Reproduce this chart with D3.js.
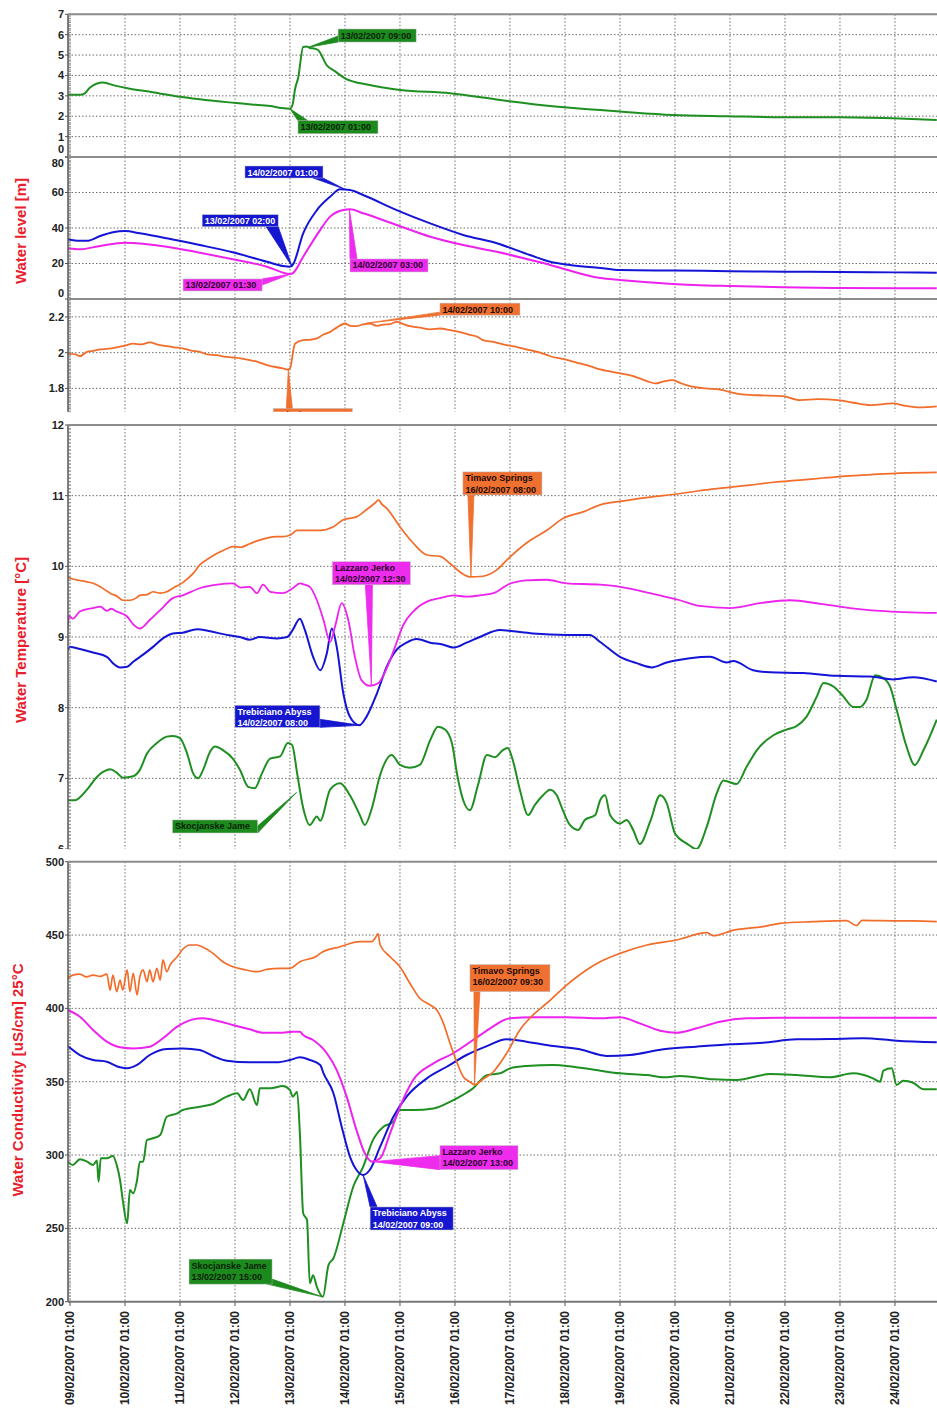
<!DOCTYPE html>
<html><head><meta charset="utf-8">
<script src="https://cdn.jsdelivr.net/npm/d3@7"></script>
<style>body{margin:0;background:#fff} svg{display:block} text{font-family:"Liberation Sans",Arial,sans-serif}</style>
</head><body><svg id="c" width="937" height="1408"></svg>
<script>
// ---------- DATA (t = days since 09/02/2007 01:00, value) ----------
const tickLabels = ["09/02/2007 01:00","10/02/2007 01:00","11/02/2007 01:00","12/02/2007 01:00","13/02/2007 01:00","14/02/2007 01:00","15/02/2007 01:00","16/02/2007 01:00","17/02/2007 01:00","18/02/2007 01:00","19/02/2007 01:00","20/02/2007 01:00","21/02/2007 01:00","22/02/2007 01:00","23/02/2007 01:00","24/02/2007 01:00"];
const levelTicksSkocjanske = [0,1,2,3,4,5,6,7];
const levelTicksTrebiciano = [0,20,40,60,80];
const levelTicksTimavo = [1.8,2,2.2];
const tempTicks = [6,7,8,9,10,11,12];
const condTicks = [200,250,300,350,400,450,500];

const levelSkocjanske = [[-0.04,3.05],[0.18,3.05],[0.27,3.12],[0.36,3.4],[0.6,3.65],[0.82,3.5],[1.09,3.35],[1.5,3.18],[2.0,2.95],[2.5,2.78],[3.02,2.65],[3.3,2.58],[3.64,2.5],[3.85,2.4],[4.0,2.37],[4.05,2.6],[4.09,3.3],[4.15,3.9],[4.24,5.4],[4.3,5.42],[4.36,5.35],[4.42,5.33],[4.51,5.25],[4.67,4.5],[4.82,4.2],[5.0,3.86],[5.45,3.53],[6.0,3.29],[6.91,3.13],[7.82,2.8],[8.73,2.5],[9.64,2.3],[10.0,2.23],[10.96,2.06],[11.95,2.0],[12.96,1.95],[13.96,1.95],[14.96,1.9],[15.76,1.82]];
const levelTrebiciano = [[-0.04,33.6],[0.18,32.8],[0.31,32.8],[0.55,35.5],[0.78,37.6],[1.0,38.3],[1.27,37.0],[1.76,34.2],[2.36,30.4],[2.96,26.3],[3.58,21.0],[3.87,18.6],[4.0,18.2],[4.05,19.2],[4.24,37.0],[4.49,50.1],[4.73,57.6],[4.91,61.8],[5.09,61.4],[5.33,58.6],[5.94,50.1],[6.55,42.6],[7.15,36.1],[7.76,31.4],[8.36,24.8],[8.73,21.0],[9.09,19.2],[9.64,17.5],[10.0,16.3],[11.0,16.0],[12.0,15.7],[13.0,15.4],[14.0,15.2],[15.0,15.0],[15.76,14.8]];
const levelLazzaro = [[-0.04,28.6],[0.18,28.0],[0.55,29.9],[1.0,31.7],[1.76,29.5],[2.36,26.1],[2.96,22.4],[3.58,18.2],[4.0,14.1],[4.05,14.5],[4.24,23.8],[4.49,36.1],[4.73,46.4],[4.97,50.1],[5.09,50.5],[5.33,48.3],[5.94,41.7],[6.55,35.1],[7.15,30.4],[7.76,26.6],[8.73,19.2],[9.64,11.8],[10.0,10.7],[10.96,8.5],[12.0,7.3],[12.96,6.6],[14.0,6.2],[15.76,6.0]];
const levelTimavo = [[-0.04,1.995],[0.1,1.99],[0.18,1.98],[0.31,2.005],[0.42,2.01],[0.55,2.018],[0.7,2.022],[0.85,2.03],[1.0,2.04],[1.15,2.05],[1.3,2.046],[1.45,2.058],[1.6,2.045],[1.76,2.036],[1.9,2.03],[2.05,2.024],[2.2,2.012],[2.36,2.005],[2.5,1.99],[2.67,1.986],[2.8,1.978],[2.96,1.973],[3.1,1.968],[3.27,1.958],[3.4,1.95],[3.58,1.93],[3.7,1.922],[3.87,1.912],[3.96,1.906],[4.0,1.912],[4.09,2.05],[4.24,2.07],[4.36,2.072],[4.49,2.08],[4.6,2.1],[4.73,2.116],[4.85,2.14],[5.0,2.163],[5.1,2.15],[5.21,2.148],[5.33,2.158],[5.45,2.163],[5.58,2.15],[5.7,2.157],[5.82,2.16],[5.94,2.172],[6.06,2.16],[6.18,2.148],[6.36,2.14],[6.55,2.13],[6.73,2.135],[6.91,2.126],[7.09,2.115],[7.27,2.10],[7.4,2.09],[7.51,2.07],[7.7,2.06],[7.94,2.042],[8.15,2.03],[8.36,2.014],[8.55,2.0],[8.73,1.98],[9.0,1.962],[9.27,1.94],[9.45,1.925],[9.64,1.906],[9.82,1.895],[10.0,1.884],[10.24,1.869],[10.36,1.856],[10.5,1.84],[10.64,1.828],[10.8,1.84],[10.96,1.846],[11.1,1.83],[11.27,1.813],[11.55,1.8],[11.82,1.794],[12.0,1.78],[12.18,1.768],[12.5,1.762],[12.96,1.757],[13.27,1.735],[13.6,1.74],[13.96,1.735],[14.25,1.72],[14.55,1.707],[14.96,1.716],[15.2,1.702],[15.45,1.694],[15.76,1.70]];

const tempTimavo = [[-0.04,9.85],[0.05,9.82],[0.18,9.8],[0.31,9.78],[0.42,9.76],[0.55,9.71],[0.67,9.65],[0.73,9.62],[0.85,9.58],[0.96,9.52],[1.09,9.52],[1.2,9.55],[1.27,9.59],[1.4,9.6],[1.51,9.64],[1.64,9.62],[1.76,9.64],[1.87,9.69],[2.05,9.77],[2.24,9.9],[2.36,10.02],[2.5,10.1],[2.67,10.18],[2.85,10.25],[2.96,10.28],[3.1,10.27],[3.27,10.32],[3.4,10.36],[3.58,10.4],[3.75,10.42],[3.87,10.42],[4.0,10.44],[4.13,10.51],[4.36,10.51],[4.55,10.51],[4.79,10.56],[4.97,10.66],[5.21,10.70],[5.39,10.80],[5.55,10.9],[5.61,10.94],[5.67,10.88],[5.76,10.82],[6.0,10.56],[6.24,10.33],[6.49,10.16],[6.73,10.14],[6.91,10.04],[7.09,9.92],[7.27,9.85],[7.51,9.86],[7.76,9.95],[7.97,10.11],[8.3,10.33],[8.67,10.51],[8.97,10.68],[9.33,10.77],[9.64,10.87],[10.1,10.93],[10.55,10.98],[11.0,11.02],[11.45,11.07],[11.9,11.11],[12.36,11.15],[12.8,11.19],[13.27,11.22],[13.7,11.25],[14.18,11.28],[14.6,11.3],[15.09,11.32],[15.76,11.33]];
const tempLazzaro = [[-0.04,9.12],[-0.02,9.3],[0.05,9.26],[0.18,9.36],[0.42,9.41],[0.55,9.43],[0.67,9.37],[0.75,9.4],[0.85,9.36],[1.04,9.29],[1.15,9.18],[1.27,9.12],[1.45,9.24],[1.64,9.38],[1.87,9.55],[2.05,9.59],[2.36,9.69],[2.67,9.74],[2.96,9.76],[3.1,9.7],[3.27,9.71],[3.4,9.62],[3.51,9.74],[3.64,9.64],[3.87,9.62],[4.05,9.69],[4.18,9.76],[4.27,9.74],[4.36,9.71],[4.49,9.52],[4.61,9.24],[4.73,8.93],[4.82,9.15],[4.94,9.48],[5.06,9.24],[5.18,8.72],[5.3,8.39],[5.45,8.31],[5.61,8.35],[5.76,8.56],[5.91,8.86],[6.06,9.17],[6.24,9.36],[6.49,9.5],[6.73,9.55],[6.97,9.59],[7.21,9.57],[7.45,9.59],[7.7,9.62],[7.96,9.74],[8.3,9.80],[8.67,9.81],[9.03,9.76],[9.64,9.74],[10.0,9.71],[10.55,9.62],[11.09,9.52],[11.45,9.44],[12.0,9.41],[12.55,9.48],[13.09,9.52],[13.64,9.47],[14.18,9.41],[14.73,9.37],[15.76,9.34]];
const tempTrebiciano = [[-0.04,8.82],[0.0,8.86],[0.18,8.83],[0.42,8.78],[0.67,8.72],[0.78,8.63],[0.91,8.57],[1.04,8.58],[1.15,8.65],[1.33,8.75],[1.51,8.86],[1.69,8.98],[1.87,9.05],[2.05,9.06],[2.31,9.11],[2.55,9.08],[2.85,9.03],[3.09,9.0],[3.27,8.96],[3.45,9.0],[3.76,8.98],[3.95,9.0],[4.05,9.1],[4.18,9.26],[4.27,9.1],[4.42,8.72],[4.55,8.53],[4.67,8.77],[4.76,9.12],[4.85,8.86],[4.97,8.2],[5.09,7.87],[5.26,7.75],[5.39,7.87],[5.58,8.2],[5.76,8.58],[5.94,8.82],[6.12,8.92],[6.3,8.97],[6.55,8.92],[6.79,8.89],[6.97,8.85],[7.21,8.92],[7.45,9.0],[7.82,9.1],[8.06,9.08],[8.42,9.05],[9.03,9.03],[9.45,9.03],[9.64,8.93],[10.0,8.72],[10.3,8.63],[10.58,8.57],[10.85,8.64],[11.27,8.70],[11.64,8.72],[11.94,8.64],[12.06,8.66],[12.42,8.53],[12.73,8.5],[13.33,8.49],[13.94,8.45],[14.55,8.44],[14.97,8.4],[15.33,8.43],[15.76,8.37]];
const tempSkocjanske = [[-0.04,6.69],[0.09,6.69],[0.31,6.84],[0.49,7.02],[0.6,7.09],[0.73,7.13],[0.85,7.08],[0.96,7.01],[1.15,7.03],[1.27,7.12],[1.4,7.35],[1.58,7.5],[1.76,7.59],[1.87,7.6],[2.0,7.57],[2.13,7.35],[2.24,7.07],[2.33,7.0],[2.42,7.12],[2.55,7.38],[2.64,7.45],[2.78,7.4],[2.96,7.28],[3.09,7.12],[3.24,6.88],[3.36,6.86],[3.49,7.07],[3.64,7.28],[3.82,7.31],[3.96,7.5],[4.04,7.47],[4.13,7.07],[4.24,6.58],[4.36,6.34],[4.49,6.46],[4.55,6.4],[4.73,6.84],[4.91,6.93],[5.09,6.76],[5.27,6.48],[5.36,6.34],[5.49,6.58],[5.64,7.05],[5.85,7.33],[6.0,7.19],[6.18,7.15],[6.36,7.19],[6.55,7.54],[6.69,7.73],[6.82,7.69],[6.95,7.48],[7.04,7.05],[7.15,6.69],[7.27,6.55],[7.42,6.91],[7.58,7.33],[7.73,7.30],[7.87,7.40],[7.96,7.43],[8.05,7.26],[8.18,6.84],[8.33,6.48],[8.45,6.62],[8.6,6.76],[8.73,6.84],[8.85,6.76],[8.96,6.55],[9.09,6.34],[9.24,6.27],[9.36,6.41],[9.55,6.48],[9.64,6.69],[9.73,6.76],[9.82,6.48],[10.0,6.36],[10.12,6.41],[10.24,6.27],[10.36,6.07],[10.55,6.39],[10.73,6.76],[10.85,6.65],[11.0,6.22],[11.21,6.08],[11.39,6.0],[11.58,6.32],[11.76,6.79],[11.88,6.97],[12.12,6.92],[12.3,7.16],[12.49,7.40],[12.79,7.61],[13.03,7.69],[13.21,7.74],[13.39,7.87],[13.58,8.16],[13.7,8.35],[13.88,8.30],[14.06,8.16],[14.24,8.01],[14.36,8.01],[14.48,8.11],[14.64,8.46],[14.79,8.42],[14.91,8.30],[15.03,7.97],[15.21,7.45],[15.36,7.19],[15.52,7.40],[15.76,7.83]];

const condTimavo = [[-0.04,420.5],[0.05,422.7],[0.18,423.4],[0.3,421.5],[0.42,422.7],[0.55,421.8],[0.67,423.4],[0.73,412.5],[0.78,422.7],[0.85,411.4],[0.91,419.3],[0.96,412.5],[1.04,426.2],[1.09,411.4],[1.15,423.9],[1.22,409.1],[1.27,421.6],[1.33,426.2],[1.4,418.2],[1.45,426.2],[1.51,418.2],[1.58,427.3],[1.64,419.3],[1.69,433],[1.76,425],[1.82,429.6],[1.95,435.2],[2.05,440.3],[2.18,443.2],[2.31,443.2],[2.42,441.6],[2.6,437.5],[2.78,431.8],[2.96,428.4],[3.15,426.6],[3.4,425],[3.58,426.6],[3.82,427.3],[4.0,427.3],[4.18,431.8],[4.49,435.7],[4.55,437.5],[4.91,442],[5.27,445.5],[5.49,445.5],[5.55,448],[5.6,451],[5.64,443.2],[5.82,435.2],[6.0,428.4],[6.18,417.1],[6.36,406.9],[6.55,402.3],[6.67,398.9],[6.79,389.8],[6.91,376.2],[7.03,363.6],[7.15,353.4],[7.27,350],[7.36,347.8],[7.49,351.2],[7.7,356.8],[7.94,369.4],[8.18,385.3],[8.42,395.5],[8.67,403.5],[9.03,415.9],[9.39,426.2],[9.64,431.8],[10.0,437.5],[10.49,443.2],[11.03,446.6],[11.58,451.6],[11.7,449.5],[12.06,453.4],[12.6,455.7],[12.91,458],[13.51,459.1],[14.12,459.8],[14.3,456.5],[14.4,460],[14.73,459.8],[15.33,459.6],[15.76,459.1]];
const condLazzaro = [[-0.04,398.9],[0.18,394.3],[0.42,385.3],[0.67,377.3],[0.91,373.5],[1.15,372.7],[1.45,373.9],[1.69,379.6],[1.95,387.5],[2.24,392.5],[2.42,393.2],[2.67,391.6],[2.96,388.7],[3.27,385.7],[3.51,383.4],[3.82,383.4],[4.05,384.1],[4.18,384.1],[4.24,381.8],[4.42,378.4],[4.67,369.4],[4.85,357.9],[5.03,339.8],[5.21,317],[5.36,301.2],[5.49,295.5],[5.64,297.8],[5.82,314.8],[6.0,332.9],[6.24,351.2],[6.61,362.5],[6.97,369.4],[7.33,378.4],[7.64,386.4],[8.0,393.2],[8.42,393.9],[9.03,393.9],[9.64,393.2],[10.0,393.9],[10.36,389.8],[10.73,384.8],[11.03,383.4],[11.39,386.4],[11.82,390.9],[12.3,393.2],[12.91,393.6],[15.76,393.6]];
const condTrebiciano = [[-0.04,374.3],[0.18,368.2],[0.42,364.8],[0.67,363.6],[0.91,359.8],[1.04,359.1],[1.22,361.4],[1.45,368.2],[1.76,372.3],[2.05,372.7],[2.36,371.6],[2.6,367.5],[2.85,364.3],[3.27,363.2],[3.76,363.2],[4.0,364.8],[4.18,366.6],[4.36,364.8],[4.55,361.4],[4.61,355.7],[4.79,342.1],[4.94,319.3],[5.09,298.9],[5.21,289.8],[5.33,286.4],[5.45,289.8],[5.64,305.7],[5.88,326.1],[6.12,339.8],[6.49,352.3],[6.85,360.2],[7.21,368.2],[7.58,374.3],[7.94,378.9],[8.3,377.3],[8.79,374.3],[9.27,372.1],[9.64,368.2],[9.76,367.5],[10.18,368.2],[10.79,372.1],[11.39,373.9],[12.0,375.5],[12.6,376.6],[13.21,378.9],[13.82,379.1],[14.42,379.6],[15.03,378],[15.76,376.9]];
const condSkocjanske = [[-0.04,295.5],[0.05,293.2],[0.18,297.1],[0.31,295.5],[0.42,293.2],[0.49,296.2],[0.52,281.8],[0.56,297.8],[0.67,297.8],[0.78,299.3],[0.85,293.2],[0.91,283],[0.96,269.3],[1.04,253.5],[1.09,276.1],[1.15,273.9],[1.22,283],[1.27,295.5],[1.33,295.5],[1.4,310.3],[1.51,311.4],[1.64,313.7],[1.76,326.1],[1.95,328.4],[2.05,330.7],[2.36,332.9],[2.6,334.8],[2.85,339.8],[3.04,342.1],[3.15,337.5],[3.27,344.8],[3.4,334.1],[3.45,345.5],[3.64,345.5],[3.87,347],[4.0,344.3],[4.05,339.8],[4.13,343.2],[4.18,314.8],[4.24,260.3],[4.31,255.7],[4.36,212.6],[4.42,218],[4.49,210],[4.6,203.4],[4.7,225],[4.79,229.6],[4.97,253.5],[5.15,278.4],[5.33,292],[5.51,310.3],[5.7,319.3],[5.88,322.7],[6.0,330.7],[6.24,330.7],[6.61,331.8],[6.85,335.2],[7.09,339.8],[7.33,345.5],[7.58,354.5],[7.82,355.7],[8.0,359.1],[8.3,360.7],[8.79,361.4],[9.15,360.2],[9.64,357.5],[10.0,355.7],[10.49,354.5],[10.79,353],[11.09,353.9],[11.7,351.6],[12.12,351.2],[12.73,355.2],[13.21,354.5],[13.82,353],[14.24,355.7],[14.6,352.3],[14.73,350],[14.79,357.5],[14.94,359.1],[15.03,347.8],[15.15,350.7],[15.33,349.3],[15.52,344.8],[15.76,344.8]];

// annotations: anchor (t, value) on a series, label lines
const annotations = [
 {panel:0, color:"green",   t:4.33,  v:5.38,  lines:["13/02/2007 09:00"]},
 {panel:0, color:"green",   t:4.0,   v:2.37,  lines:["13/02/2007 01:00"]},
 {panel:1, color:"blue",    t:5.0,   v:61.8,  lines:["14/02/2007 01:00"]},
 {panel:1, color:"blue",    t:4.04,  v:18.2,  lines:["13/02/2007 02:00"]},
 {panel:1, color:"magenta", t:4.02,  v:14.1,  lines:["13/02/2007 01:30"]},
 {panel:1, color:"magenta", t:5.08,  v:50.5,  lines:["14/02/2007 03:00"]},
 {panel:2, color:"orange",  t:5.4,   v:2.165, lines:["14/02/2007 10:00"]},
 {panel:2, color:"orange",  t:3.97,  v:1.906, lines:["13/02/2007 01:00"]},
 {panel:3, color:"orange",  t:7.29,  v:9.85,  lines:["Timavo Springs","16/02/2007 08:00"]},
 {panel:3, color:"magenta", t:5.48,  v:8.31,  lines:["Lazzaro Jerko","14/02/2007 12:30"]},
 {panel:3, color:"blue",    t:5.29,  v:7.75,  lines:["Trebiciano Abyss","14/02/2007 08:00"]},
 {panel:3, color:"green",   t:4.12,  v:6.8,   lines:["Skocjanske Jame"]},
 {panel:4, color:"orange",  t:7.354, v:348,   lines:["Timavo Springs","16/02/2007 09:30"]},
 {panel:4, color:"magenta", t:5.5,   v:295.5, lines:["Lazzaro Jerko","14/02/2007 13:00"]},
 {panel:4, color:"blue",    t:5.33,  v:286.4, lines:["Trebiciano Abyss","14/02/2007 09:00"]},
 {panel:4, color:"green",   t:4.583, v:203.4, lines:["Skocjanske Jame","13/02/2007 15:00"]}
];

// ---------- LAYOUT / STYLE ----------
const COL = {green:"#1f8f22", blue:"#1414d6", magenta:"#ee22ee", orange:"#f26c2a"};
const BOX = {green:"#1d8a1d", blue:"#1616d0", magenta:"#ee2cee", orange:"#f07030"};
const TXT = {green:"#0b1f0b", blue:"#ffffff", magenta:"#2a002a", orange:"#1a0a00"};
const annLayout = [
 {box:[30,-18.3,78,13], base:[[0,7],[0,13]]},
 {box:[8,12,80,13], base:[[0,0],[10,0]]},
 {box:[-100,-23.3,78,12], base:[[68,12],[78,12]]},
 {box:[-90,-52,76,12], base:[[64,12],[76,12]]},
 {box:[-108,5,79,12], base:[[79,0],[79,6]]},
 {box:[0.6,49.6,78,13], base:[[0,0],[7,0]]},
 {box:[73,-20,80,12], base:[[0,9],[0,12]]},
 {box:[-15,39,79,13], base:[[13,0],[19,0]]},
 {box:[-8,-105,79,23], base:[[5,23],[11,23]]},
 {box:[-39,-124,78,23], base:[[33,23],[40,23]]},
 {box:[-126,-20,85,22], base:[[85,14],[85,22]]},
 {box:[-124,27.5,85,13], base:[[85,6],[85,13]]},
 {box:[-4.5,-120,80,27], base:[[4,27],[10,27]]},
 {box:[67.5,-16,78,24], base:[[0,10],[0,24]]},
 {box:[7,32,83,23], base:[[0,0],[7,0]]},
 {box:[-133,-37.6,83,25], base:[[78,25],[83,20]]}
];

const svg = d3.select('#c');
const start = new Date(2007,1,9,1,0);
const toDate = t => new Date(+start + t*864e5);
const parseTick = d3.timeParse('%d/%m/%Y %H:%M');
const tickDates = tickLabels.map(parseTick);
const X0 = 68, X1 = 937;
const x = d3.scaleTime().domain([toDate(-0.036), toDate(15.764)]).range([X0, X1]);

const panels = [
 {domain:[0,7], range:[157,14.3], ticks:levelTicksSkocjanske, minor:0.1, shift:{0:-8},
   series:[[levelSkocjanske,"green",2]]},
 {domain:[0,80], range:[299,157], ticks:levelTicksTrebiciano, minor:1, shift:{0:-6, 80:6},
   series:[[levelLazzaro,"magenta",2],[levelTrebiciano,"blue",2]]},
 {domain:[1.67,2.3], range:[411.7,299], ticks:levelTicksTimavo, minor:0.01, shift:{},
   series:[[levelTimavo,"orange",1.8]]},
 {domain:[6,12], range:[849,425], ticks:tempTicks, minor:0.05, shift:{},
   series:[[tempSkocjanske,"green",2],[tempTrebiciano,"blue",2],[tempLazzaro,"magenta",1.8],[tempTimavo,"orange",1.7]]},
 {domain:[200,500], range:[1301.7,861.7], ticks:condTicks, minor:2, shift:{},
   series:[[condSkocjanske,"green",2],[condTrebiciano,"blue",2],[condLazzaro,"magenta",2],[condTimavo,"orange",1.7]]}
];

const defs = svg.append('defs');
panels.forEach((p,i)=>{
  p.y = d3.scaleLinear().domain(p.domain).range(p.range);
  const top = p.range[1], bot = p.range[0];
  defs.append('clipPath').attr('id','clip'+i).append('rect')
    .attr('x',X0).attr('y',top).attr('width',X1-X0).attr('height',bot-top);
  defs.append('clipPath').attr('id','clipL'+i).append('rect')
    .attr('x',0).attr('y',top-8).attr('width',X0).attr('height',bot-top+ (i===3?8:16));
  const g = svg.append('g').attr('clip-path',`url(#clip${i})`);
  g.selectAll('.hg').data(p.ticks.filter(v=>v!==p.domain[0] && v!==p.domain[1])).enter().append('line')
    .attr('x1',X0).attr('x2',X1).attr('y1',d=>p.y(d)).attr('y2',d=>p.y(d))
    .attr('stroke','#6f6f6f').attr('stroke-width',1).attr('stroke-dasharray','1.5,2');
  g.selectAll('.vg').data(tickDates).enter().append('line')
    .attr('x1',d=>x(d)).attr('x2',d=>x(d)).attr('y1',top).attr('y2',bot)
    .attr('stroke','#6f6f6f').attr('stroke-width',1).attr('stroke-dasharray','1.5,2');
  const line = d3.line().x(d=>x(toDate(d[0]))).y(d=>p.y(d[1])).curve(d3.curveMonotoneX);
  p.series.forEach(([data,c,w])=>{
    g.append('path').datum(data).attr('d',line).attr('fill','none')
      .attr('stroke',COL[c]).attr('stroke-width',w).attr('stroke-linejoin','round');
  });
  p.g = g;
  const ax = svg.append('g');
  const minors = d3.range(p.domain[0], p.domain[1]+1e-9, p.minor);
  ax.selectAll('.mt').data(minors).enter().append('line')
    .attr('x1',X0).attr('x2',X0+3).attr('y1',d=>p.y(d)).attr('y2',d=>p.y(d))
    .attr('stroke','#777').attr('stroke-width',0.6);
  ax.append('line').attr('x1',X0).attr('x2',X0).attr('y1',top).attr('y2',bot)
    .attr('stroke','#555').attr('stroke-width',1.5);
  const lg = svg.append('g').attr('clip-path',`url(#clipL${i})`);
  lg.selectAll('.tk').data(p.ticks).enter().append('line')
    .attr('x1',X0-3).attr('x2',X0).attr('y1',d=>p.y(d)).attr('y2',d=>p.y(d))
    .attr('stroke','#555').attr('stroke-width',1);
  lg.selectAll('.tl').data(p.ticks).enter().append('text')
    .attr('x',X0-4).attr('y',d=>p.y(d)+(p.shift[d]||0)).attr('dy','0.36em')
    .attr('text-anchor','end').attr('font-size','11px').attr('font-weight','bold').attr('fill','#222')
    .text(d=>d3.format('~g')(d));
});

[14.3,157,299,425,861.7].forEach(yy=>{
  svg.append('line').attr('x1',X0).attr('x2',X1).attr('y1',yy).attr('y2',yy)
    .attr('stroke','#8c8c8c').attr('stroke-width',2);
});
svg.append('line').attr('x1',X0).attr('x2',X1).attr('y1',1301.7).attr('y2',1301.7)
  .attr('stroke','#777').attr('stroke-width',2);

svg.selectAll('.xt').data(tickDates).enter().append('line')
  .attr('x1',d=>x(d)).attr('x2',d=>x(d)).attr('y1',1302).attr('y2',1306)
  .attr('stroke','#555');
svg.selectAll('.xl').data(tickDates).enter().append('text')
  .attr('transform',d=>`translate(${x(d)+4},1311) rotate(-90)`)
  .attr('text-anchor','end').attr('font-size','12px').attr('font-weight','bold').attr('fill','#222')
  .text((d,i)=>tickLabels[i]);

const titles = [["Water level [m]",21,231],["Water Temperature [°C]",21,640],["Water Conductivity [uS/cm] 25°C",18,1080]];
titles.forEach(([t,xx,yy])=>{
  svg.append('text').attr('transform',`translate(${xx},${yy}) rotate(-90)`)
    .attr('text-anchor','middle').attr('dy','0.35em').attr('font-size','15px').attr('font-weight','bold')
    .attr('fill','#e8202c').text(t);
});

annotations.forEach((a,i)=>{
  const p = panels[a.panel], L = annLayout[i];
  const ax = x(toDate(a.t)), ay = p.y(a.v);
  const bx = ax + L.box[0], by = ay + L.box[1], bw = L.box[2], bh = L.box[3];
  const g = p.g.append('g');
  g.append('polygon')
    .attr('points',[[ax,ay],[bx+L.base[0][0],by+L.base[0][1]],[bx+L.base[1][0],by+L.base[1][1]]].map(q=>q.join(',')).join(' '))
    .attr('fill',BOX[a.color]).attr('stroke',BOX[a.color]).attr('stroke-width',0.8);
  g.append('rect').attr('x',bx).attr('y',by).attr('width',bw).attr('height',bh)
    .attr('fill',BOX[a.color]).attr('stroke','#bbb').attr('stroke-width',0.5);
  a.lines.forEach((s,k)=>{
    g.append('text').attr('x',bx+2.5).attr('y',by+9.5+k*11.2)
      .attr('font-size','9px').attr('font-weight','bold').attr('fill',TXT[a.color]).text(s);
  });
});
</script></body></html>
